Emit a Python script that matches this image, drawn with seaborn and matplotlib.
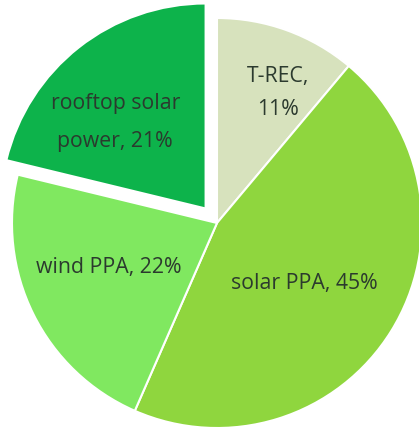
import numpy as np
import matplotlib
matplotlib.use("Agg")
import matplotlib.pyplot as plt
import seaborn as sns

sns.set_theme(style="white")
plt.rcParams['font.family'] = ['Open Sans', 'DejaVu Sans']

# data (clockwise from 12 o'clock)
names = ["T-REC", "solar PPA", "wind PPA", "rooftop solar power"]
shares = [11, 45, 22, 21]
label_text = ["T-REC,\n11%", "solar PPA, 45%", "wind PPA, 22%", "rooftop solar\npower, 21%"]

colors = ["#d7e2bd", "#8fd63e", "#80e860", "#0db34b"]
explode = [0, 0, 0, 0.09]
# label placement: radius, angle shift (deg), line spacing
lab_r = [0.70, 0.52, 0.57, 0.61]
lab_dt = [-5, -2.9, -4.2, 8.1]
lab_ls = [1.72, 1.2, 1.2, 2.07]

fig = plt.figure(figsize=(4.19, 4.28), dpi=100)
ax = fig.add_axes([0, 0, 1, 1])

wedges, _ = ax.pie(shares, colors=colors, explode=explode, startangle=90,
                   counterclock=False, radius=1.0,
                   wedgeprops=dict(edgecolor="white", linewidth=1.5))

for w, txt, r, dt, ls in zip(wedges, label_text, lab_r, lab_dt, lab_ls):
    th = np.deg2rad((w.theta1 + w.theta2) / 2 + dt)
    cx, cy = w.center
    ax.text(cx + r * np.cos(th), cy + r * np.sin(th), txt, ha="center", va="center",
            fontsize=15.3, color="#2b3a2e", linespacing=ls)

# crop as in the reference (centre at 217, 223 px; radius 205 px)
R = 205
ax.set_xlim(-217 / R, (419 - 217) / R)
ax.set_ylim(-(428 - 223) / R, 223 / R)
ax.set_aspect("auto")
ax.axis("off")

fig.savefig("out.png", dpi=100)
